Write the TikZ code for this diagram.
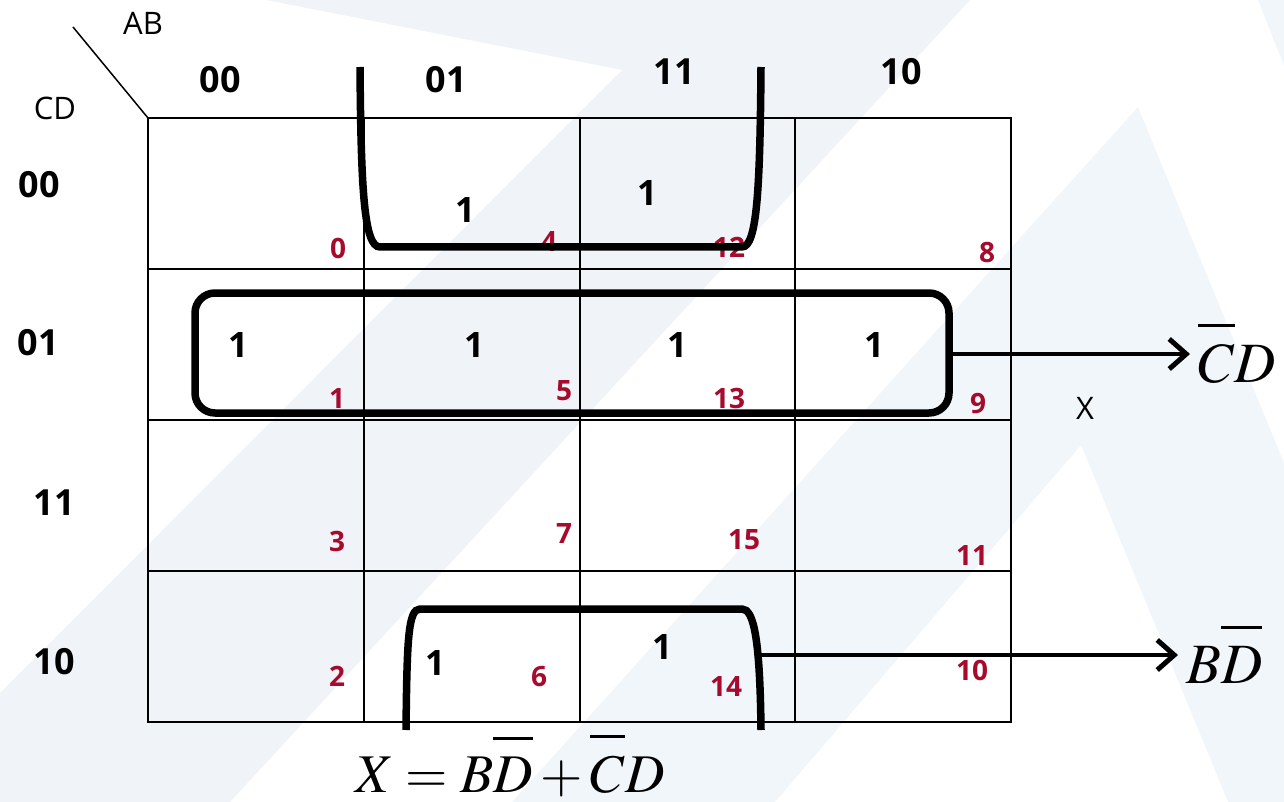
\documentclass[tikz,border=0pt]{standalone}
\usepackage{mathptmx}
\usepackage[no-math]{fontspec}
\setmainfont{Open Sans}
\usetikzlibrary{arrows.meta}
\definecolor{idxred}{HTML}{A60A2D}
\definecolor{bandgray}{HTML}{F0F3F7}
\definecolor{bandblue}{HTML}{F1F6FB}
\newcommand{\ovl}[1]{\vbox{\hrule height 3pt\kern 17pt\hbox{$#1$}}}
\tikzset{
  bgband/.style    = {fill=bandgray, draw=none},
  bgbandb/.style   = {fill=bandblue, draw=none},
  kgrid/.style     = {draw=black, line width=2.4pt},
  kslash/.style    = {draw=black, line width=1.5pt},
  vartag/.style    = {font=\fontsize{31}{34}\selectfont, inner sep=0pt},
  codetag/.style   = {font=\fontsize{36}{40}\selectfont\bfseries, inner sep=0pt},
  onetag/.style    = {font=\fontsize{35}{40}\selectfont\bfseries, inner sep=0pt},
  idxtag/.style    = {font=\fontsize{28}{30}\selectfont\bfseries, text=idxred,
                      inner sep=0pt},
  groupline/.style = {draw=black, line width=7.5pt},
  termarrow/.style = {draw=black, line width=4pt,
                      -{Straight Barb[length=17pt, width=30pt, line width=5pt]}},
  termlabel/.style = {font=\fontsize{57}{60}\selectfont, inner sep=8pt},
}

\begin{document}
\begin{tikzpicture}[x=1pt, y=-1pt]
  \useasboundingbox (0,0) rectangle (1284,802);
  % background bands
  \fill[bgband] (266,0) -- (970,0) -- (230,802) -- (0,802) -- (0,693) -- (622,70) -- cycle;
  \fill[bgbandb] (512,802) -- (1138,107) -- (1284,463) -- (1284,802) -- (1228,802)
    -- (1081,445) -- (775,802) -- cycle;
  \fill[bgbandb] (1258,0) -- (1284,0) -- (1284,66) -- cycle;
  % the map
  \draw[kgrid] (148,118) rectangle (1011,722);
  \foreach \x in {364,580,795} \draw[kgrid] (\x,118) -- (\x,722);
  \foreach \y in {269,420,571} \draw[kgrid] (148,\y) -- (1011,\y);
  \draw[kslash] (73,27) -- (148,118);
  \node[vartag] (ab) at (143,23) {AB};
  \node[vartag] (cd) at (55,108) {CD};
  \foreach \t/\x/\y [count=\i] in {00/220/80, 01/446/80, 11/674/72, 10/901/72}
    \node[codetag] (col\i) at (\x,\y) {\t};
  \foreach \t/\x/\y [count=\i] in {00/39/185, 01/38/343, 11/54/503, 10/54/662}
    \node[codetag] (row\i) at (\x,\y) {\t};
  \foreach \x/\y [count=\i] in {465/210, 647/193, 238/345, 474/345, 677/345, 874/345,
      435/663, 662/647}
    \node[onetag] (one\i) at (\x,\y) {1};
  \foreach \n/\x/\y in {0/338/248, 4/549/242, 12/729/247, 8/987/253,
      1/337/399, 5/564/391, 13/729/398, 9/978/404,
      3/337/541, 7/564/534, 15/744/540, 11/972/556,
      2/337/676, 6/539/677, 14/726/686, 10/972/670}
    \node[idxtag] (m\n) at (\x,\y) {\n};
  % groups
  \draw[groupline] (360,67) .. controls (361,190) and (364,247) .. (380,247)
    -- (742,247) .. controls (757,247) and (760,190) .. (761,67);
  \draw[groupline, rounded corners=20pt] (195,293) rectangle (949,413);
  \draw[groupline] (406,730) .. controls (407,640) and (408,609) .. (420,609)
    -- (742,609) .. controls (754,609) and (760,640) .. (761,730);
  % terms
  \coordinate (cdout) at (949,354);
  \coordinate (bdout) at (757,655);
  \node[termlabel, anchor=base west] (labCD) at (1190,382) {$\ovl{C}D$};
  \node[termlabel, anchor=base west] (labBD) at (1178,683) {$B\ovl{D}$};
  \draw[termarrow] (cdout) -- (cdout -| labCD.west);
  \draw[termarrow] (bdout) -- (bdout -| labBD.west);
  \node[vartag] (xout) at (1085,408) {X};
  \node[termlabel, font=\fontsize{54.5}{58}\selectfont, inner sep=0pt,
    anchor=base west] (eqn) at (355,792) {$X = B\ovl{D} + \ovl{C}D$};
\end{tikzpicture}
\end{document}
